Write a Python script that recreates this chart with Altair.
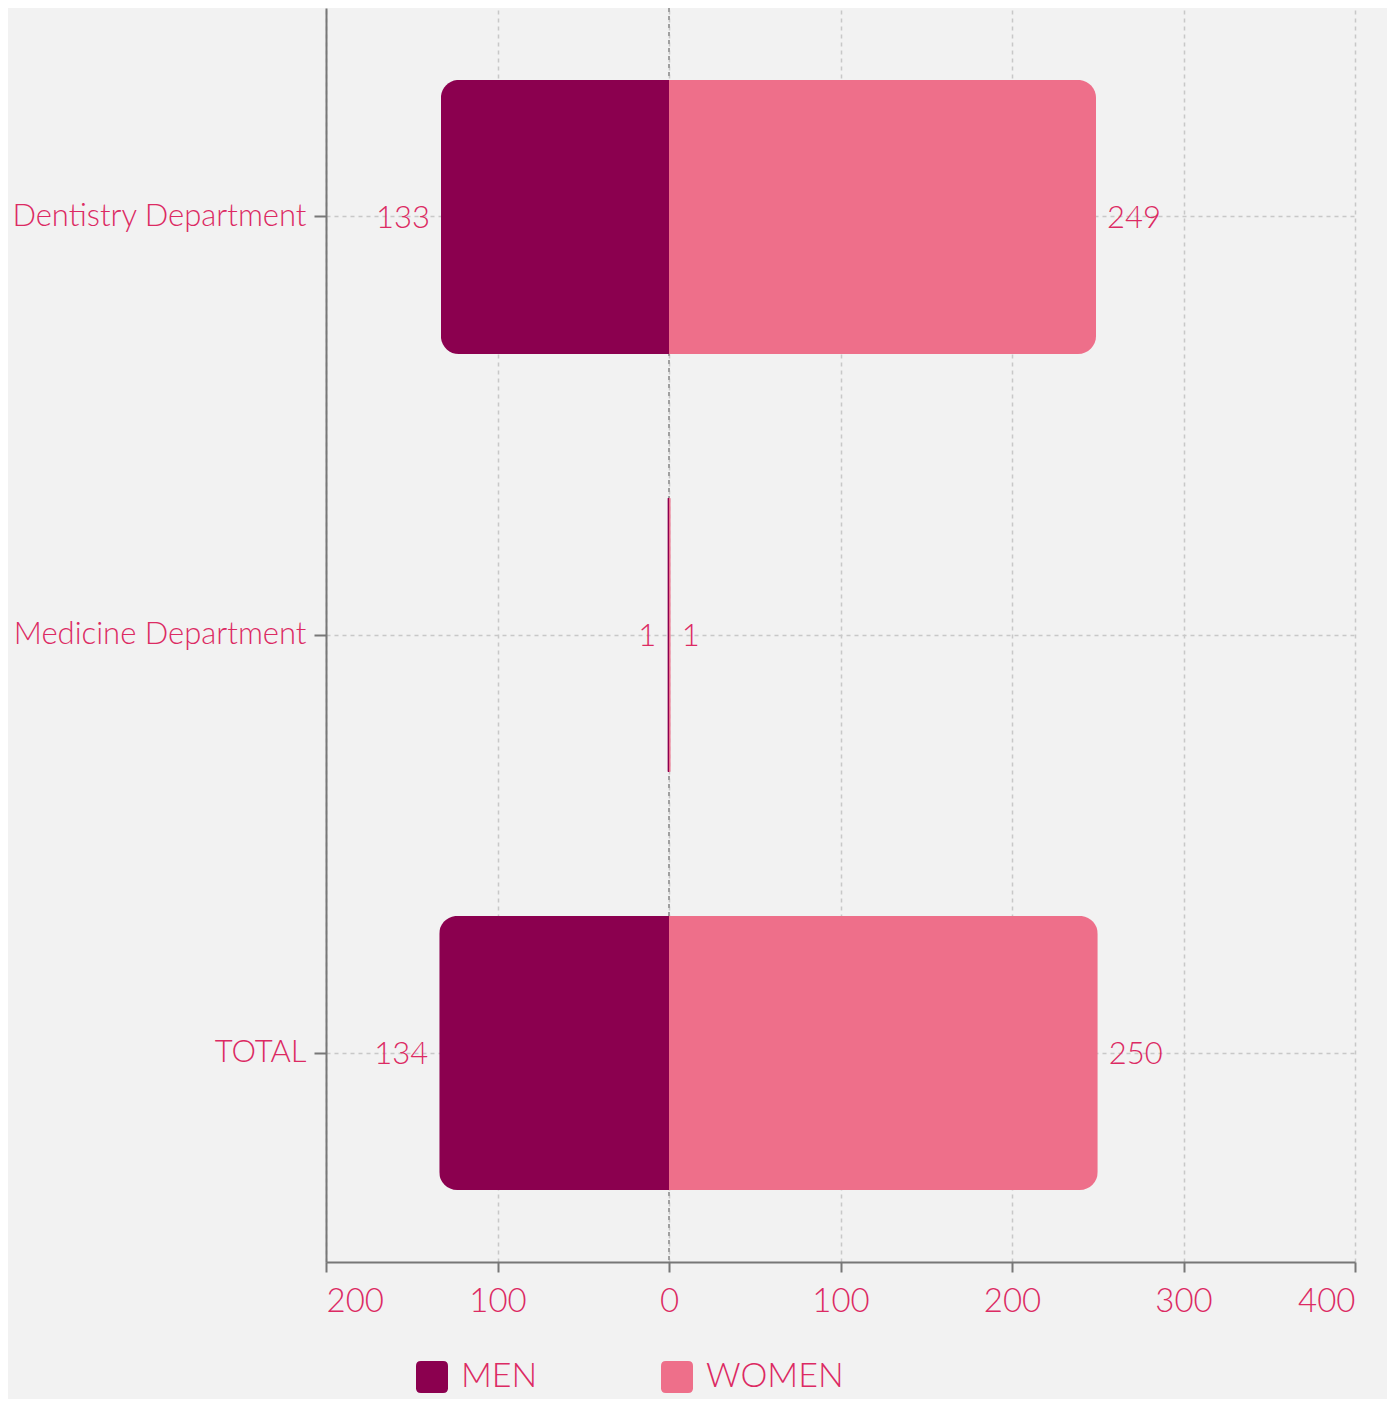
import altair as alt
import pandas as pd

categories = ["Dentistry Department", "Medicine Department", "TOTAL"]
men = [133, 1, 134]
women = [249, 1, 250]
series = ["MEN", "WOMEN"]
colors = ["#8b004f", "#ee6f8a"]
x_ticks = [-200, -100, 0, 100, 200, 300, 400]

rows = []
for c, m, w in zip(categories, men, women):
    rows.append({"category": c, "group": "MEN", "value": -m, "label": m})
    rows.append({"category": c, "group": "WOMEN", "value": w, "label": w})
df = pd.DataFrame(rows)

TXT = "#dc2a63"
AX = "#777777"
FONT = "Lato"

y_enc = alt.Y(
    "category:N",
    sort=categories,
    title=None,
    scale=alt.Scale(paddingInner=0.344, paddingOuter=0.172),
    axis=alt.Axis(
        labelFontSize=31, labelColor=TXT, labelFont=FONT, labelFontWeight=300,
        labelPadding=8, labelLimit=400,
        tickSize=12, tickColor=AX, tickWidth=2,
        domainColor=AX, domainWidth=2,
        grid=True, gridDash=[4, 4], gridColor="#c8c8c8", gridWidth=1.5,
        bandPosition=0.5,
    ),
)
x_enc = alt.X(
    "value:Q",
    title=None,
    scale=alt.Scale(domain=[-200, 400], nice=False),
    axis=alt.Axis(
        values=x_ticks, labelExpr="abs(datum.value)",
        labelFontSize=33, labelColor=TXT, labelFont=FONT, labelFontWeight=300,
        labelPadding=13, tickSize=10, tickColor=AX, tickWidth=2,
        domainColor=AX, domainWidth=2,
        grid=True, gridDash=[4, 4], gridColor="#c8c8c8", gridWidth=1.5,
    ),
)
color_enc = alt.Color(
    "group:N",
    title=None,
    scale=alt.Scale(domain=series, range=colors),
    legend=alt.Legend(
        orient="none", legendX=89, legendY=1352, direction="horizontal",
        symbolType="M-0.7,-1H0.7Q1,-1,1,-0.7V0.7Q1,1,0.7,1H-0.7Q-1,1,-1,0.7V-0.7Q-1,-1,-0.7,-1Z",
        symbolSize=1024, symbolStrokeWidth=0, symbolOpacity=1,
        labelFontSize=34, labelColor=TXT, labelFont=FONT, labelFontWeight=300,
        labelOffset=12, columnPadding=122,
    ),
)

base = alt.Chart(df)

men_bar = base.transform_filter(alt.datum.group == "MEN").mark_bar(
    cornerRadiusTopLeft=18, cornerRadiusBottomLeft=18
).encode(x=x_enc, y=y_enc, color=color_enc)

women_bar = base.transform_filter(alt.datum.group == "WOMEN").mark_bar(
    cornerRadiusTopRight=18, cornerRadiusBottomRight=18
).encode(x=x_enc, y=y_enc, color=color_enc)

zero_rule = base.mark_rule(color="#a0a0a0", strokeDash=[4, 4], strokeWidth=1.5).encode(
    x=alt.datum(0)
)

men_text = base.transform_filter(alt.datum.group == "MEN").mark_text(
    align="right", baseline="middle", dx=-11, dy=2, fontSize=31, color=TXT,
    font=FONT, fontWeight=300
).encode(x="value:Q", y=alt.Y("category:N", sort=categories), text="label:Q")

women_text = base.transform_filter(alt.datum.group == "WOMEN").mark_text(
    align="left", baseline="middle", dx=11, dy=2, fontSize=31, color=TXT,
    font=FONT, fontWeight=300
).encode(x="value:Q", y=alt.Y("category:N", sort=categories), text="label:Q")

chart = alt.layer(zero_rule, men_bar, women_bar, men_text, women_text).properties(
    width=1029,
    height=1254,
    background="#f2f2f2",
    autosize=alt.AutoSizeParams(type="none"),
    padding={"left": 318, "top": 0, "right": 32, "bottom": 137},
).configure_view(strokeWidth=0)

chart.save("out.html", embed_options={"renderer": "svg", "actions": False})
